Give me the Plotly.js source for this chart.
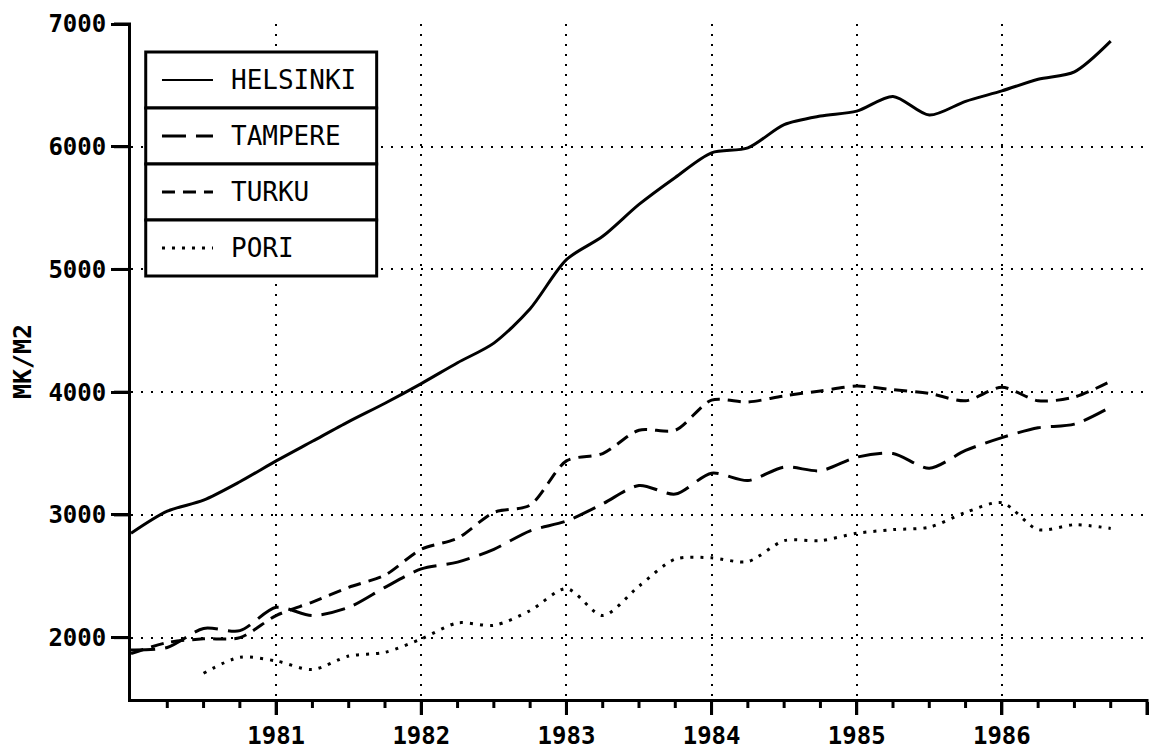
<!DOCTYPE html>
<html>
<head>
<meta charset="utf-8">
<script src="https://cdn.plot.ly/plotly-3.0.1.min.js"></script>
<style>html,body{margin:0;padding:0;background:#fff;}#chart{width:1160px;height:751px;}</style>
</head>
<body>
<div id="chart"></div>
<script>
// Quarterly observations, 1980 Q1 .. 1986 Q4
var quarters = [1980.0, 1980.25, 1980.5, 1980.75, 1981.0, 1981.25, 1981.5, 1981.75,
                1982.0, 1982.25, 1982.5, 1982.75, 1983.0, 1983.25, 1983.5, 1983.75,
                1984.0, 1984.25, 1984.5, 1984.75, 1985.0, 1985.25, 1985.5, 1985.75,
                1986.0, 1986.25, 1986.5, 1986.75];
var helsinki = [2850, 3030, 3120, 3270, 3440, 3600, 3760, 3910,
                4070, 4240, 4400, 4680, 5080, 5270, 5530, 5750,
                5950, 5990, 6180, 6250, 6290, 6410, 6258, 6370,
                6455, 6550, 6610, 6860];
var tampere  = [1900, 1920, 2075, 2057, 2247, 2180, 2247, 2410,
                2560, 2615, 2720, 2870, 2950, 3090, 3240, 3170,
                3340, 3280, 3390, 3360, 3470, 3500, 3380, 3525,
                3630, 3710, 3740, 3880];
var turku    = [1870, 1960, 1990, 2000, 2180, 2290, 2410, 2510,
                2720, 2810, 3020, 3080, 3440, 3500, 3690, 3690,
                3935, 3920, 3970, 4010, 4050, 4020, 3990, 3930,
                4040, 3930, 3960, 4090];
// Pori series starts in 1980 Q3
var poriQuarters = quarters.slice(2);
var pori     = [1710, 1840, 1810, 1740, 1850, 1880,
                1990, 2120, 2100, 2220, 2400, 2180, 2420, 2640,
                2650, 2620, 2790, 2790, 2850, 2880, 2900, 3020,
                3100, 2880, 2920, 2890];

var seriesNames = ['HELSINKI', 'TAMPERE', 'TURKU', 'PORI'];
var yTicks = [2000, 3000, 4000, 5000, 6000, 7000];
var xTicks = [1981, 1982, 1983, 1984, 1985, 1986, 1987];
var xTickText = ['1981', '1982', '1983', '1984', '1985', '1986', ''];
var xRange = [1980, 1987];
var yRange = [1500, 7000];

var dashes = ['solid', '24px,10px', '13px,8px', '3px,7px'];
var lw = 3;

var traces = [
  {x: quarters, y: helsinki, name: seriesNames[0]},
  {x: quarters, y: tampere, name: seriesNames[1]},
  {x: quarters, y: turku, name: seriesNames[2]},
  {x: poriQuarters, y: pori, name: seriesNames[3]}
].map(function (t, i) {
  t.type = 'scatter';
  t.mode = 'lines';
  t.line = {color: '#000', width: lw, dash: dashes[i], shape: 'spline', smoothing: 0.8};
  t.showlegend = false;
  t.hoverinfo = 'x+y+name';
  return t;
});

var plotW = 1016, plotH = 675;
var shapes = [];
var annotations = [];

// Axis tick marks, placed in paper space from the axis ranges
function px(v) { return (v - xRange[0]) / (xRange[1] - xRange[0]); }
function py(v) { return (v - yRange[0]) / (yRange[1] - yRange[0]); }
var majorLenX = 16, minorLenX = 9, majorLenY = 17;
function tickShape(x0, x1, y0, y1) {
  return {type: 'line', xref: 'paper', yref: 'paper', x0: x0, x1: x1, y0: y0, y1: y1,
          line: {color: '#000', width: 3}, layer: 'above'};
}
xTicks.forEach(function (v) {
  shapes.push(tickShape(px(v), px(v), 0, -majorLenX / plotH));
});
quarters.concat([1987]).forEach(function (q) {
  if (q > xRange[0] && Math.abs(q - Math.round(q)) > 1e-6) {
    shapes.push(tickShape(px(q), px(q), 0, -minorLenX / plotH));
  }
});
yTicks.forEach(function (v) {
  shapes.push(tickShape(0, -majorLenY / plotW, py(v), py(v)));
});

// Manual boxed legend (paper coordinates)
var L = {x0: 0.0145, x1: 0.2418, top: 0.9585, rowH: 0.0830, lineX0: 0.0305, lineX1: 0.0807, textX: 0.0965};
seriesNames.forEach(function (nm, i) {
  var yt = L.top - i * L.rowH, yb = yt - L.rowH, yc = (yt + yb) / 2;
  shapes.push({type: 'rect', xref: 'paper', yref: 'paper', x0: L.x0, x1: L.x1, y0: yb, y1: yt,
               line: {color: '#000', width: 3}, fillcolor: '#fff', layer: 'above'});
  shapes.push({type: 'line', xref: 'paper', yref: 'paper', x0: L.lineX0, x1: L.lineX1, y0: yc, y1: yc,
               line: {color: '#000', width: i === 0 ? 2 : 3, dash: dashes[i]}, layer: 'above'});
  annotations.push({xref: 'paper', yref: 'paper', x: L.textX, y: yc, xanchor: 'left', yanchor: 'middle',
                    text: nm, showarrow: false,
                    font: {family: 'DejaVu Sans Mono', size: 26, color: '#000'}});
});

var tickFont = {family: 'DejaVu Sans Mono', size: 24, color: '#000', weight: 'bold'};

var layout = {
  width: 1160, height: 751,
  margin: {l: 131, r: 13, t: 24, b: 52},
  paper_bgcolor: '#fff', plot_bgcolor: '#fff',
  showlegend: false,
  font: {family: 'DejaVu Sans Mono', size: 24, color: '#000'},
  xaxis: {
    range: xRange,
    tickmode: 'array', tickvals: xTicks, ticktext: xTickText,
    ticks: 'outside', ticklen: 13, tickwidth: 3, tickcolor: '#000',
    showline: true, linecolor: '#000', linewidth: 3,
    showgrid: true, gridcolor: '#000', gridwidth: 2, griddash: '2px,8px',
    zeroline: false,
    tickfont: tickFont
  },
  yaxis: {
    range: yRange,
    tickmode: 'array', tickvals: yTicks,
    ticks: 'outside', ticklen: 17, tickwidth: 3, tickcolor: '#000',
    showline: true, linecolor: '#000', linewidth: 3,
    showgrid: true, gridcolor: '#000', gridwidth: 2, griddash: '2px,8px',
    zeroline: false,
    tickfont: tickFont,
    title: {text: 'MK/M2', font: {family: 'DejaVu Sans Mono', size: 25, color: '#000', weight: 'bold'}, standoff: 10}
  },
  shapes: shapes,
  annotations: annotations
};

Plotly.newPlot('chart', traces, layout, {displayModeBar: false, staticPlot: true});
</script>
</body>
</html>
